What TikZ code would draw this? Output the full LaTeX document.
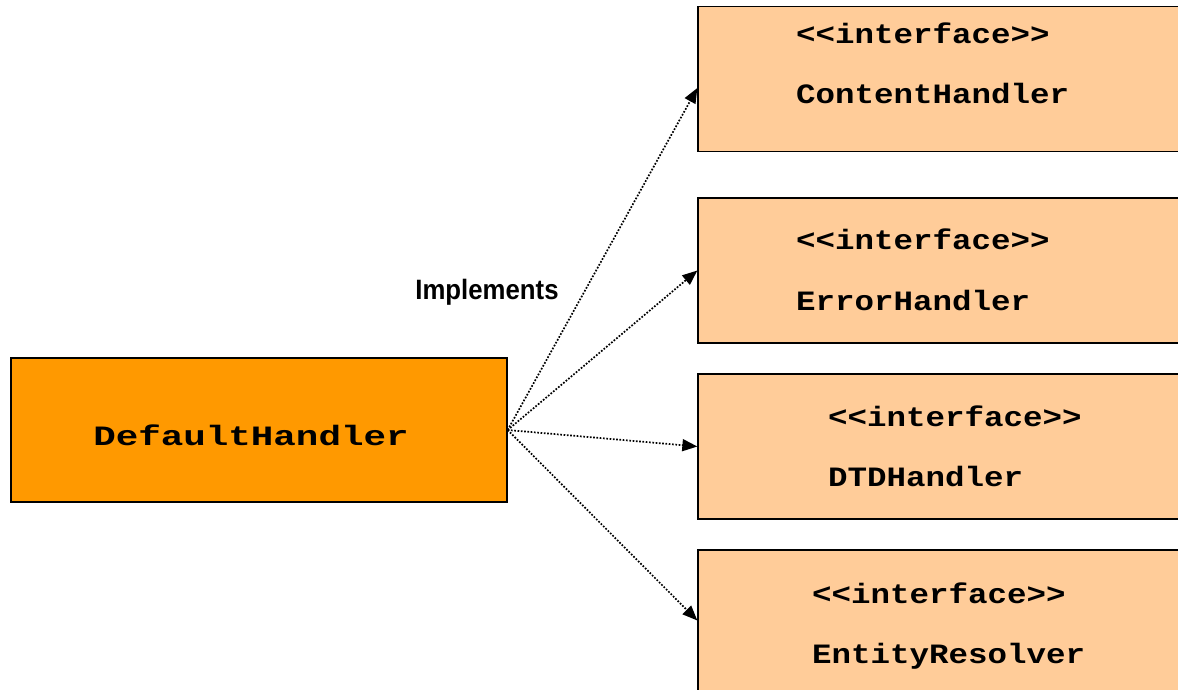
\documentclass[tikz,border=0pt]{standalone}
\usepackage{fontspec}
\usepackage{tikz}
\usetikzlibrary{arrows.meta}

\newfontfamily\ifacefont[FakeStretch=1.16]{Liberation Mono}
\newfontfamily\handlerfont[FakeStretch=1.34]{Liberation Mono}
\newfontfamily\implfont[FakeStretch=0.92]{Liberation Sans}

\definecolor{handlerorange}{HTML}{FF9900}
\definecolor{ifacepeach}{HTML}{FFCC99}

\tikzset{
  classbox/.style={draw=black, line width=1.3pt, inner sep=0pt, fill=handlerorange,
    minimum width=496pt, minimum height=144pt},
  ifacebox/.style={classbox, fill=ifacepeach, minimum width=492pt, minimum height=145pt},
  ifacetext/.style={anchor=base west, inner sep=0pt,
    font=\ifacefont\bfseries\fontsize{28}{30}\selectfont},
  realizes/.style={->, >={Triangle[length=15pt, width=12pt]}, line width=1.7pt,
    dash pattern=on 1.7pt off 1.6pt}
}

\begin{document}
\begin{tikzpicture}[x=1pt, y=-1pt]
  \useasboundingbox (0,0) rectangle (1178,690);
  \clip (0,0) rectangle (1178,690);

  % the class and the four SAX interfaces
  \node[classbox] (default) at (259,430) {};
  \node[anchor=base, inner sep=0pt, font=\handlerfont\bfseries\fontsize{28}{30}\selectfont]
    (default-name) at (251,445.5) {DefaultHandler};

  \node[ifacebox] (content) at (944,79) {};
  \node[ifacebox] (error) at (944,270.5) {};
  \node[ifacebox] (dtd) at (944,446.5) {};
  \node[ifacebox] (entity) at (944,622.5) {};

  \node[ifacetext] (content-tag) at (796,43.5) {<{}<interface>{}>};
  \node[ifacetext] (content-name) at (796,103.5) {ContentHandler};
  \node[ifacetext] (error-tag) at (796,249.5) {<{}<interface>{}>};
  \node[ifacetext] (error-name) at (796,310.5) {ErrorHandler};
  \node[ifacetext] (dtd-tag) at (828,426.5) {<{}<interface>{}>};
  \node[ifacetext] (dtd-name) at (828,486.5) {DTDHandler};
  \node[ifacetext] (entity-tag) at (812,603.5) {<{}<interface>{}>};
  \node[ifacetext] (entity-name) at (812,663) {EntityResolver};

  % implements arrows
  \draw[realizes] (default.east) -- ([yshift=-9pt]content.west);
  \draw[realizes] (default.east) -- (error.west);
  \draw[realizes] (default.east) -- (dtd.west);
  \draw[realizes] (default.east) -- ([yshift=2pt]entity.west);

  \node[font=\implfont\bfseries\fontsize{28}{30}\selectfont, inner sep=0pt]
    (implements) at (487,292) {Implements};
\end{tikzpicture}
\end{document}
